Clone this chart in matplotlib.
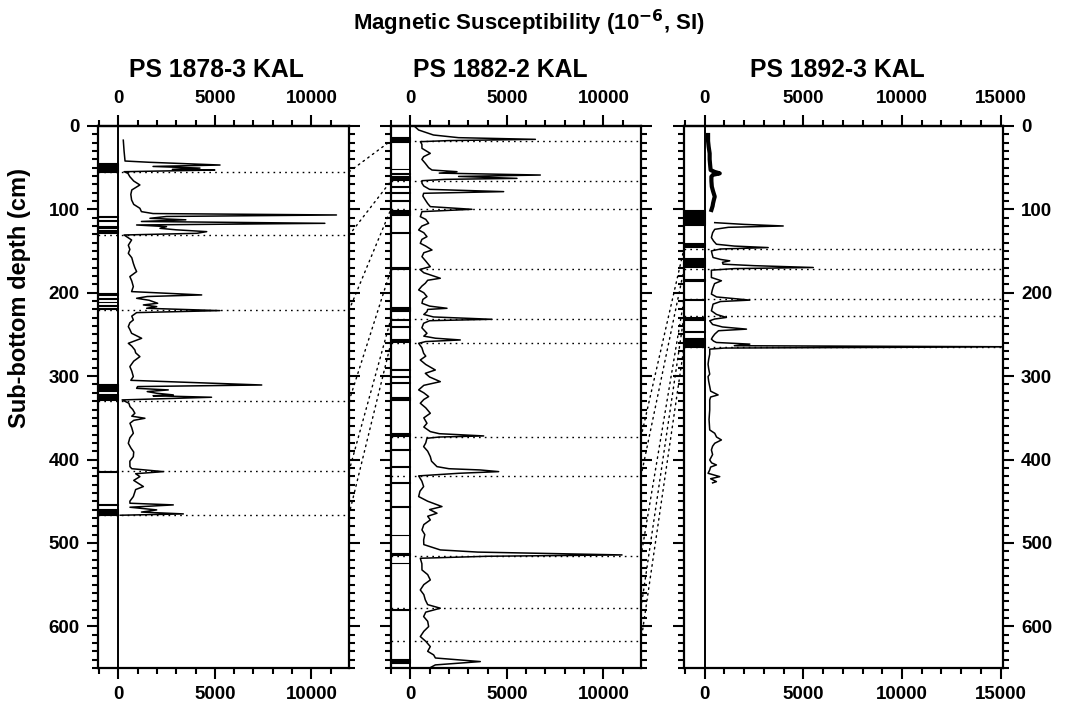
import matplotlib
matplotlib.use("Agg")
import matplotlib.pyplot as plt
from matplotlib.ticker import MultipleLocator, FixedLocator
from matplotlib.patches import ConnectionPatch

plt.rcParams['font.family'] = ['Liberation Sans', 'DejaVu Sans']
plt.rcParams['font.weight'] = 'bold'

# --- core names
cores = ['PS 1878-3 KAL', 'PS 1882-2 KAL', 'PS 1892-3 KAL']

# --- PS 1878-3 magnetic susceptibility (depth cm, 10^-6 SI)
depth_1878 = [17, 30, 42, 43.5, 46.8, 48.5, 50.5, 52, 52.8, 54.8, 56.8, 60.8, 66, 70.7, 76.7, 82, 88.7, 94,
              98.7, 102.7, 105, 106.7, 108.5, 110.7, 112.5, 114.5, 116.7, 118.7, 120.7, 122.7, 124.5, 126.7,
              128.7, 130.7, 136.7, 143, 148, 152.7, 158, 164.7, 170, 174.6, 180.6, 186, 192.6, 198.6, 202.6,
              204.5, 206.6, 209, 212.6, 214.6, 216.6, 218.6, 221.4, 223.8, 228, 232.6, 236, 240.6, 244, 248.6,
              254.6, 260.6, 264, 268.6, 272, 276.6, 282, 288.5, 294, 300.5, 305, 310.6, 312.5, 314.6, 316.5,
              318.5, 320.5, 322.5, 323.5, 325.3, 328.5, 332.5, 336.5, 340, 344.5, 348, 350.5, 353, 356.5, 362,
              368.5, 374, 380.5, 386, 391, 396.5, 402, 408.5, 411, 414.5, 417, 420.5, 425, 432.4, 436, 444.4,
              450, 452.4, 454.4, 457.2, 460.4, 463, 465.2, 466.8]
ms_1878 = [260, 300, 350, 1600, 5270, 1800, 4230, 2800, 5000, 300, 500, 600, 800, 1120, 700, 650, 690, 800,
           1120, 1200, 1800, 11300, 2500, 1640, 3500, 1200, 10700, 950, 2500, 2160, 3000, 4580,
           4060, 300, 690, 520, 600, 520, 700, 780, 860, 950, 600, 700, 780, 690, 4320,
           1500, 950, 1600, 2040, 1300, 1990, 1470, 5270, 950, 700, 780, 600, 520, 600, 690,
           1210, 520, 700, 860, 900, 1120, 800, 600, 700, 780, 650, 7430, 1000, 950, 2590,
           1500, 1990, 2850, 1800, 4830, 200, 550, 605, 750, 860, 700, 1380, 800, 605, 700,
           780, 600, 520, 650, 800, 780, 600, 605, 700, 2330, 900, 1120, 800, 1300, 900, 780,
           600, 605, 2850, 605, 1990, 1200, 3370, 100]

# --- PS 1882-2
depth_1882 = [0, 4.8, 10.8, 14, 16, 17.5, 18.8, 22, 26.8, 32.8, 36.8, 40, 44.8, 50, 52.8, 54.8, 56.5, 58.8,
              60.5, 62.8, 64, 65.6, 68.7, 72, 76, 78.7, 80.7, 84, 88.7, 93, 96.7, 99.9, 102.7, 108.7, 112,
              116.7, 120, 124.7, 128, 132.7, 136, 140.7, 144, 148.7, 152, 156.7, 162, 168.7, 172, 176, 182.6,
              185, 188.6, 192, 196.6, 200, 204.6, 208, 212.6, 216, 218.6, 220, 222.6, 226, 229, 231.8, 233.5,
              236.6, 242, 248.6, 252, 254.5, 256.6, 258.5, 260.6, 266, 272.6, 276, 280.6, 286, 292.6, 296.6,
              301, 306.6, 311, 316.5, 320, 324.5, 328, 332.5, 338, 344.5, 350, 356.5, 361, 366.5, 369, 371.7,
              373, 374.5, 380, 384.5, 390, 396.5, 402, 408.5, 411, 412.5, 414.5, 416.5, 419.6, 426, 432.4,
              438, 444.4, 450, 456.4, 460, 464.4, 468, 472.4, 478, 484.4, 490, 496.4, 502, 508.4, 511, 514.4,
              516, 518.4, 525, 532.4, 538, 544.4, 550, 556.4, 562, 568.3, 574, 578.3, 583, 588.3, 594, 600.3,
              606, 612.3, 618, 624.3, 630, 634.3, 638, 642.3, 646.3, 650]
ms_1882 = [200, 430, 1200, 2500, 6480, 2000, 520, 600, 604, 1036, 691, 600, 777, 950, 1123, 2418, 1500, 6735,
           2500, 5526, 1800, 604, 604, 700, 1000, 4835, 691, 650, 777, 900, 1036, 3194, 604, 518, 800,
           950, 600, 432, 700, 863, 600, 518, 800, 1123, 700, 604, 800, 1036, 500, 700, 1554,
           900, 777, 600, 432, 700, 863, 650, 604, 1000, 1900, 900, 863, 700, 1200, 4230, 1000,
           691, 600, 863, 700, 1300, 2590, 800, 432, 600, 691, 800, 518, 800, 1295, 777,
           1000, 1554, 700, 432, 700, 950, 700, 518, 800, 1036, 700, 863, 700, 1036, 1500, 3800,
           1500, 863, 800, 691, 900, 1036, 1100, 1381, 2000, 3626, 4576, 2500, 432, 600, 691,
           500, 432, 900, 1640, 1000, 1381, 900, 1036, 700, 604, 750, 691, 700, 1554, 3500, 10966,
           4000, 518, 600, 604, 900, 1036, 700, 518, 700, 777, 900, 1554, 800, 691, 900, 950,
           700, 518, 800, 1036, 900, 1209, 1300, 3626, 1295, 1000]

# --- PS 1892-3 (upper section measured separately)
depth_1892_top = [10.8, 18, 24.8, 32.8, 40, 48, 52.8, 55, 56.8, 58.5, 60.8, 66, 72.7, 78, 84.7, 88, 92.7, 96, 100.7]
ms_1892_top = [170, 170, 200, 250, 250, 280, 300, 500, 762, 420, 339, 339, 360, 420, 508, 470, 423, 400, 339]
depth_1892 = [115.9, 118, 119.9, 121.5, 123.9, 128, 133.8, 138, 141.8, 144, 145.8, 147.5, 149.8, 154, 157.7,
              160, 161.7, 163.5, 165.7, 167.5, 169.7, 171, 172.9, 177, 181.7, 185.6, 189, 193.6, 197, 201.6,
              205, 208.8, 210.5, 213.6, 218, 221.6, 226, 229.6, 231.5, 233.6, 238, 241, 243.6, 245.5, 249.6,
              253, 255.6, 258, 259.6, 261.6, 263.5, 264.8, 266.3, 267.6, 273.6, 280, 285.6, 291, 297.6, 300.5,
              306, 312.5, 318, 322.5, 325, 328.5, 340.5, 352, 364.5, 368.5, 373, 376.5, 380.5, 384, 388.5,
              394, 400.5, 404, 406.5, 409, 412.5, 416.5, 420.5, 423, 426.5, 428]
ms_1892 = [508, 2000, 3979, 1200, 508, 400, 339, 450, 593, 1500, 3217, 800, 339, 380, 423,
           800, 1270, 900, 931, 2500, 5503, 1500, 339, 339, 339, 847, 500, 423, 380, 339,
           600, 2286, 800, 423, 380, 339, 600, 1100, 500, 254, 400, 900, 2117, 700, 508,
           400, 339, 450, 593, 2286, 1500, 16000, 1000, 254, 254, 200, 170, 200, 254, 170,
           200, 254, 300, 678, 300, 254, 254, 220, 254, 508, 600, 847, 508, 400, 339,
           400, 254, 350, 593, 300, 254, 170, 762, 300, 593, 400]

# --- lithology column: dark layers (top, bottom) in cm
lith_1878 = [(44, 55), (108.5, 109.5), (112.5, 113.5), (120, 122), (124.5, 128), (200, 203), (206.5, 207.5),
             (210.5, 211.5), (214.5, 215.5), (218.5, 219.5), (310, 318), (321, 328), (413.5, 414.5),
             (453, 454.5), (459, 467)]
lith_1882 = [(13.5, 19), (51, 52), (56, 57), (60, 65), (72.5, 73.5), (79.5, 80.5), (88.5, 89.5), (101, 107),
             (127.5, 128.5), (169, 171.5), (217, 222), (231.5, 232.5), (239.5, 240.5), (255.5, 258.5),
             (292, 293), (299.5, 300.5), (307.5, 308.5), (325, 328), (368.5, 372), (387, 389), (408, 409),
             (427, 428.5), (455.5, 456.5), (490, 491), (512, 515), (523.5, 524.5), (579.5, 580.5), (639, 644)]
lith_1892 = [(101, 119), (140, 145), (158, 169), (184, 186), (207.5, 208.5), (229, 233), (246, 247.5), (254, 265)]

# --- tie points (cm)
ties_1878 = [55, 131, 221, 330, 414, 466]
ties_1882_up = [17.6, 66, 99.5, 172, 231, 260]
ties_1882_dn = [373, 420, 516, 578, 618]
ties_1892 = [147, 172, 208, 228, 265]

W, H = 1073, 706
fig = plt.figure(figsize=(W / 100, H / 100), dpi=100)

top_px, bot_px = 126, 668
boxes = [(98, 349), (391, 641), (684, 1003)]
xlims = [(-1050, 11950), (-1000, 11950), (-1050, 15120)]
axes = []
for (l, r) in boxes:
    ax = fig.add_axes([l / W, 1 - bot_px / H, (r - l) / W, (bot_px - top_px) / H])
    axes.append(ax)

dot = (0, (1.2, 3))
panels = [
    (depth_1878, ms_1878, lith_1878, ties_1878),
    (depth_1882, ms_1882, lith_1882, ties_1882_up + ties_1882_dn),
    (depth_1892, ms_1892, lith_1892, ties_1892),
]

for i, ax in enumerate(axes):
    d, v, lith, ties = panels[i]
    x0, x1 = xlims[i]
    ax.set_xlim(x0, x1)
    ax.set_ylim(650, 0)
    for t, b in lith:
        ax.fill_betweenx([t, b], x0, 0, color='k', lw=0.8)
    ax.hlines(ties, x0, x1, colors='k', linestyles=dot, lw=1.0, zorder=1)
    ax.axvline(0, color='k', lw=1.4)
    ax.plot(v, d, color='k', lw=1.1, zorder=3)
    if i == 2:
        ax.plot(ms_1892_top, depth_1892_top, color='k', lw=3.0, zorder=3)

    for s in ax.spines.values():
        s.set_linewidth(1.6)
    majors = list(range(0, int(x1) + 1, 5000))
    minors = list(range(-1000, int(x1) + 1, 1000))
    ax.xaxis.set_major_locator(FixedLocator(majors))
    ax.xaxis.set_minor_locator(FixedLocator(minors))
    ax.yaxis.set_major_locator(MultipleLocator(100))
    ax.yaxis.set_minor_locator(MultipleLocator(10))
    ax.tick_params(which='both', direction='out', width=1.5, left=True, right=True,
                   labelleft=(i == 0), labelright=(i == 2), labelsize=13.5)
    ax.tick_params(which='major', length=8, pad=5)
    ax.tick_params(which='minor', length=4.5)
    for lab in ax.get_xticklabels() + ax.get_yticklabels():
        lab.set_fontweight('bold')

    sec = ax.secondary_xaxis('top')
    sec.xaxis.set_major_locator(FixedLocator(majors))
    sec.xaxis.set_minor_locator(FixedLocator(minors))
    sec.spines['top'].set_linewidth(1.6)
    sec.tick_params(which='both', direction='out', width=1.5, labelsize=13.5)
    sec.tick_params(which='major', length=8, pad=6)
    sec.tick_params(which='minor', length=4.5)
    for lab in sec.get_xticklabels():
        lab.set_fontweight('bold')

# correlation lines between cores
pairs = [(0, 1, ties_1878, ties_1882_up), (1, 2, ties_1882_dn, ties_1892)]
for a, b, da, db in pairs:
    for ya, yb in zip(da, db):
        con = ConnectionPatch(xyA=(xlims[a][1], ya), coordsA=axes[a].transData,
                              xyB=(xlims[b][0], yb), coordsB=axes[b].transData,
                              color='k', lw=1.0, linestyle=dot)
        fig.add_artist(con)

title_x = [216, 500, 837]
for name, xc in zip(cores, title_x):
    fig.text(xc / W, 1 - 70 / H, name, ha='center', va='center', fontsize=17.8, fontweight='bold')

fig.text(529 / W, 1 - 23 / H, 'Magnetic Susceptibility (10$^{\\mathbf{-6}}$, SI)', ha='center', va='center',
         fontsize=16, fontweight='bold')
fig.text(20 / W, 1 - 298 / H, 'Sub-bottom depth (cm)', rotation=90, ha='center', va='center',
         fontsize=17, fontweight='bold')

fig.savefig('out.png', dpi=100)
